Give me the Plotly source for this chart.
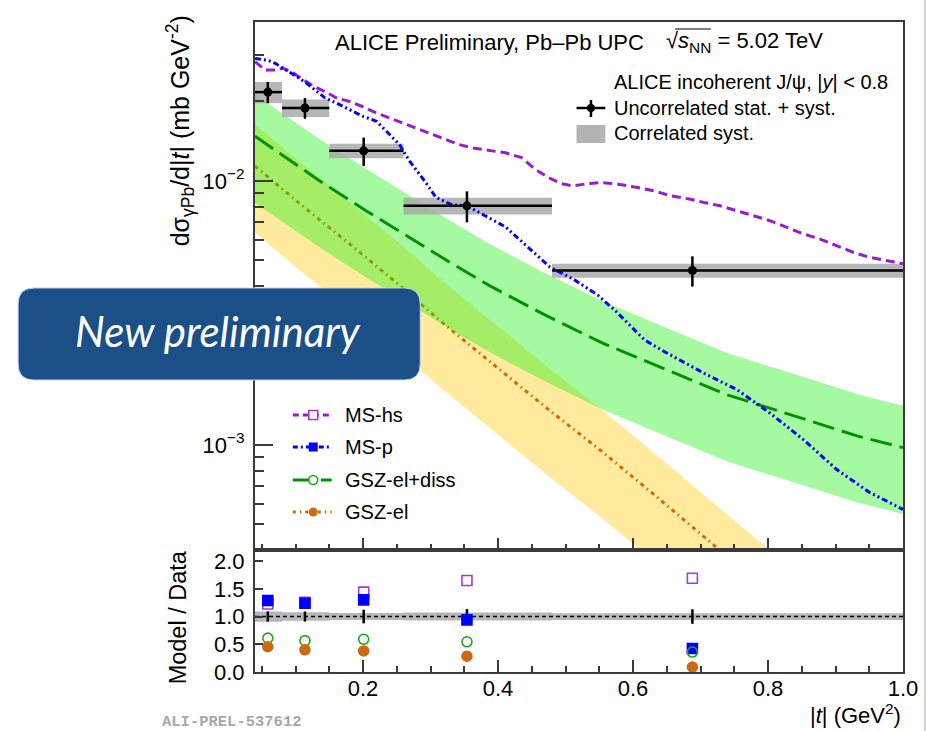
import math
import plotly.graph_objects as go

# ---------------- measured incoherent J/psi cross section ----------------
T_LO = [0.04, 0.08, 0.15, 0.26, 0.48]
T_HI = [0.08, 0.15, 0.26, 0.48, 1.00]
T_MEAN = [0.059, 0.114, 0.201, 0.354, 0.688]
XSEC = [0.0217, 0.0189, 0.0130, 0.00805, 0.00458]
XSEC_UNCORR = [0.0020, 0.0017, 0.0016, 0.00108, 0.00060]
XSEC_CORR = [0.0020, 0.00145, 0.00082, 0.00058, 0.00028]

# ---------------- model curves ----------------
MS_HS_T = [0.04, 0.055, 0.07, 0.082, 0.097, 0.112, 0.127, 0.144, 0.161, 0.18,
           0.2, 0.22, 0.27, 0.313, 0.342, 0.362, 0.411, 0.435, 0.455, 0.475,
           0.494, 0.511, 0.533, 0.553, 0.578, 0.607, 0.632, 0.656, 0.685, 0.705,
           0.729, 0.754, 0.779, 0.803, 0.828, 0.852, 0.876, 0.901, 0.926, 0.95,
           0.975, 1.0]
MS_HS_XSEC = [0.0283, 0.0263, 0.0263, 0.0267, 0.0256, 0.0242, 0.0228, 0.0218, 0.0206, 0.0200,
              0.0191, 0.0181, 0.0162, 0.01475, 0.01374, 0.01334, 0.01278, 0.01225, 0.01107, 0.01029,
              0.00977, 0.00958, 0.00977, 0.00986, 0.00972, 0.00944, 0.00917, 0.00878, 0.00853, 0.00829,
              0.00805, 0.00771, 0.00738, 0.00707, 0.00667, 0.0063, 0.00604, 0.00569, 0.00537, 0.00514,
              0.0050, 0.00486]

MS_P_T = [0.04, 0.058, 0.07, 0.087, 0.102, 0.117, 0.132, 0.144, 0.161, 0.18,
          0.2, 0.22, 0.244, 0.254, 0.269, 0.293, 0.308, 0.332, 0.354, 0.411,
          0.477, 0.514, 0.548, 0.573, 0.617, 0.646, 0.705, 0.754, 0.803, 0.852,
          0.901, 0.95, 1.0]
MS_P_XSEC = [0.0291, 0.0287, 0.0279, 0.0263, 0.0248, 0.0234, 0.0218, 0.0206, 0.0197, 0.0186,
             0.01757, 0.01683, 0.0145, 0.01374, 0.01189, 0.00986, 0.00866, 0.00812, 0.00805, 0.0067,
             0.00472, 0.00421, 0.00369, 0.00324, 0.0025, 0.00226, 0.00187, 0.00162, 0.00132, 0.00105,
             0.00081, 0.000662, 0.00057]

GSZ_DISS_T = [0.04, 0.136, 0.205, 0.288, 0.332, 0.386, 0.465, 0.555, 0.649, 0.739,
              0.84, 0.933, 1.0]
GSZ_DISS_XSEC = [0.01477, 0.0100, 0.0077, 0.00569, 0.00486, 0.00403, 0.00315, 0.00243, 0.00193, 0.00155,
                 0.001286, 0.00108, 0.000977]

GSZ_EL_T = [0.04, 0.104, 0.18, 0.254, 0.313, 0.401, 0.475, 0.553, 0.627, 0.72, 0.80, 0.82]
GSZ_EL_XSEC = [0.01139, 0.00829, 0.00578, 0.00403, 0.00297, 0.00195, 0.00136, 0.000949, 0.000662,
               0.000417, 0.000282, 0.000255]

GSZ_REL_UNC = 0.44   # relative width of the GSZ model bands

# ---------------- model / data ratios ----------------
RATIO_MS_HS = [1.225, 1.255, 1.44, 1.65, 1.69]
RATIO_MS_P = [1.29, 1.24, 1.30, 0.94, 0.425]
RATIO_GSZ_DISS = [0.61, 0.565, 0.59, 0.545, 0.36]
RATIO_GSZ_EL = [0.455, 0.40, 0.38, 0.285, 0.09]

# ---------------- styling ----------------
FONT = "Liberation Sans, Arial, Helvetica, sans-serif"
C_HS = "#9a1cd2"
C_HS_MK = "#a838dc"
C_P = "#0000ff"
C_DISS = "#009200"
C_DISS_MK = "#1fa61f"
C_EL = "#d56a00"
C_EL_MK = "#cc6a12"
BAND_DISS = "rgba(30,240,20,0.40)"
BAND_EL = "rgba(255,200,0,0.38)"
BOX_GRAY = "rgba(165,165,165,0.80)"
AX = "#3a3a3a"

W, H = 930, 731
L, R, T, B = 255, 906, 22, 672
SPLIT = 550


def px(x):
    return (x - L) / (R - L)


def py(y):
    return (B - y) / (B - T)


fig = go.Figure()


def band(t, c, rel, color):
    up = [v * (1 + rel) for v in c]
    lo = [v * (1 - rel) for v in c]
    return go.Scatter(x=t + t[::-1], y=up + lo[::-1], fill="toself", fillcolor=color,
                      line=dict(width=0), mode="lines", hoverinfo="skip",
                      showlegend=False, xaxis="x", yaxis="y")


def boxes(lo, hi, ylo, yhi, color, xa, ya):
    xs, ys = [], []
    for a, b, c, d in zip(lo, hi, ylo, yhi):
        xs += [a, b, b, a, a, None]
        ys += [c, c, d, d, c, None]
    return go.Scatter(x=xs, y=ys, fill="toself", fillcolor=color, line=dict(width=0),
                      mode="lines", hoverinfo="skip", showlegend=False, xaxis=xa, yaxis=ya)


# GSZ-el band and curve
fig.add_trace(band(GSZ_EL_T, GSZ_EL_XSEC, GSZ_REL_UNC, BAND_EL))
fig.add_trace(go.Scatter(x=GSZ_EL_T, y=GSZ_EL_XSEC, mode="lines",
                         line=dict(color=C_EL, width=3, dash="4px,4px,1.5px,4px"),
                         showlegend=False, xaxis="x", yaxis="y"))
# GSZ-el+diss band and curve
fig.add_trace(band(GSZ_DISS_T, GSZ_DISS_XSEC, GSZ_REL_UNC, BAND_DISS))
fig.add_trace(go.Scatter(x=GSZ_DISS_T, y=GSZ_DISS_XSEC, mode="lines",
                         line=dict(color=C_DISS, width=3, dash="22px,8px"),
                         showlegend=False, xaxis="x", yaxis="y"))

# correlated systematic boxes
fig.add_trace(boxes(T_LO, T_HI,
                    [v - e for v, e in zip(XSEC, XSEC_CORR)],
                    [v + e for v, e in zip(XSEC, XSEC_CORR)], BOX_GRAY, "x", "y"))

# MS curves
fig.add_trace(go.Scatter(x=MS_HS_T, y=MS_HS_XSEC, mode="lines",
                         line=dict(color=C_HS, width=3, dash="9px,5px"),
                         showlegend=False, xaxis="x", yaxis="y"))
fig.add_trace(go.Scatter(x=MS_P_T, y=MS_P_XSEC, mode="lines",
                         line=dict(color=C_P, width=3, dash="6px,3px,2px,3px,2px,3px"),
                         showlegend=False, xaxis="x", yaxis="y"))

# data points with uncorrelated uncertainties
fig.add_trace(go.Scatter(
    x=T_MEAN, y=XSEC, mode="markers",
    marker=dict(color="black", size=9),
    error_y=dict(type="data", array=XSEC_UNCORR, color="black", thickness=2.5, width=0),
    error_x=dict(type="data", symmetric=False,
                 array=[h - m for h, m in zip(T_HI, T_MEAN)],
                 arrayminus=[m - l for m, l in zip(T_MEAN, T_LO)],
                 color="black", thickness=2.5, width=0),
    showlegend=False, xaxis="x", yaxis="y"))

# ---------------- ratio panel ----------------
rel_corr = [e / v for e, v in zip(XSEC_CORR, XSEC)]
rel_unc = [e / v for e, v in zip(XSEC_UNCORR, XSEC)]
fig.add_trace(boxes(T_LO, T_HI, [1 - r for r in rel_corr], [1 + r for r in rel_corr],
                    BOX_GRAY, "x2", "y2"))
fig.add_trace(go.Scatter(x=[0.04, 1.0], y=[1, 1], mode="lines",
                         line=dict(color="black", width=1.5, dash="4px,3px"),
                         showlegend=False, xaxis="x2", yaxis="y2"))
# uncorrelated uncertainty of the data, relative, as vertical bars around unity
err_x, err_y = [], []
for t, r in zip(T_MEAN, rel_unc):
    err_x += [t, t, None]
    err_y += [1 - r, 1 + r, None]
fig.add_trace(go.Scatter(x=err_x, y=err_y, mode="lines", line=dict(color="black", width=2.5),
                         showlegend=False, xaxis="x2", yaxis="y2"))
for vals, sym, col in [(RATIO_MS_HS, "square-open", C_HS_MK),
                       (RATIO_MS_P, "square", C_P),
                       (RATIO_GSZ_DISS, "circle-open", C_DISS_MK),
                       (RATIO_GSZ_EL, "circle", C_EL_MK)]:
    fig.add_trace(go.Scatter(x=T_MEAN, y=vals, mode="markers",
                             marker=dict(symbol=sym, color=col, size=10, line=dict(width=1.6, color=col)),
                             showlegend=False, xaxis="x2", yaxis="y2"))

# ---------------- axes ----------------
split = py(SPLIT)
x_major = [0.2, 0.4, 0.6, 0.8, 1.0]
x_minor = [round(0.05 * k, 2) for k in range(1, 20) if k % 4 != 0]
y_minor = [m * 10 ** e for e in (-4, -3, -2) for m in range(2, 10)
           if 4e-4 < m * 10 ** e < 4e-2]

common_x = dict(range=[0.04, 1.0], showgrid=False, zeroline=False, showline=True, mirror=True,
                linecolor=AX, linewidth=2, ticks="inside", ticklen=12, tickwidth=1.5,
                tickcolor=AX, tickvals=x_major,
                minor=dict(tickvals=x_minor, ticks="inside", ticklen=6, tickwidth=1.5, tickcolor=AX))

fig.update_layout(
    width=W, height=H,
    margin=dict(l=L, r=W - R, t=T, b=H - B),
    paper_bgcolor="white", plot_bgcolor="white",
    font=dict(family=FONT, color="black", size=20),
    xaxis=dict(domain=[0, 1], anchor="y", showticklabels=False, **common_x),
    yaxis=dict(domain=[split, 1], anchor="x", type="log",
               range=[math.log10(4e-4), math.log10(4e-2)],
               showgrid=False, zeroline=False, showline=True, mirror=True,
               linecolor=AX, linewidth=2, ticks="inside", ticklen=18, tickwidth=1.5, tickcolor=AX,
               tickvals=[1e-3, 1e-2], ticktext=["10<sup>\u22123</sup>", "10<sup>\u22122</sup>"],
               tickfont=dict(size=22), ticklabelstandoff=4,
               minor=dict(tickvals=y_minor, ticks="inside", ticklen=9, tickwidth=1.5, tickcolor=AX)),
    xaxis2=dict(domain=[0, 1], anchor="y2", ticktext=["0.2", "0.4", "0.6", "0.8", "1.0"],
                tickfont=dict(size=22), ticklabelstandoff=-4, **common_x),
    yaxis2=dict(domain=[0, split], anchor="x2", range=[0, 2.2],
                showgrid=False, zeroline=False, showline=True, mirror=True,
                linecolor=AX, linewidth=2, ticks="inside", ticklen=8, tickwidth=1.5, tickcolor=AX,
                tickvals=[0, 0.5, 1.0, 1.5, 2.0], ticktext=["0.0", "0.5", "1.0", "1.5", "2.0"],
                tickfont=dict(size=22), ticklabelstandoff=4),
)

# ---------------- texts ----------------
ann = []


def text(x, y, s, size=20, anchor="left", color="black", **kw):
    ann.append(dict(x=px(x), y=py(y), xref="paper", yref="paper", text=s, showarrow=False,
                    xanchor=anchor, yanchor="middle", font=dict(size=size, color=color,
                                                                 family=kw.pop("family", FONT)),
                    **kw))


text(333, 42, "ALICE Preliminary, Pb\u2013Pb UPC", size=22)
text(666, 42, "\u221a<i>s</i><sub>NN</sub> = 5.02 TeV", size=22)
text(614, 82, "ALICE incoherent J/\u03c8, |<i>y</i>| &lt; 0.8", size=20)
text(614, 108, "Uncorrelated stat. + syst.", size=20)
text(614, 133, "Correlated syst.", size=20)

model_rows = [("MS-hs", 415), ("MS-p", 447), ("GSZ-el+diss", 480), ("GSZ-el", 512)]
for name, y in model_rows:
    text(343, y, name, size=20)

text(180, 131, "d\u03c3<sub>\u03b3Pb</sub>/d|<i>t</i>| (mb GeV<sup>-2</sup>)", size=25,
     anchor="center", textangle=-90)
text(178, 617, "Model / Data", size=23.5, anchor="center", textangle=-90)
text(906, 714, "|<i>t</i>| (GeV<sup>2</sup>)", size=22, anchor="right")
text(160, 722, "<b>ALI-PREL-537612</b>", size=15.5, color="#a8a8a8",
     family="Liberation Mono, Courier New, monospace")

# ---------------- legend symbols and decorations ----------------
shapes = []


def seg(x0, y0, x1, y1, color, width, dash="solid", layer="above"):
    shapes.append(dict(type="line", xref="paper", yref="paper", x0=px(x0), y0=py(y0),
                       x1=px(x1), y1=py(y1), line=dict(color=color, width=width, dash=dash),
                       layer=layer))


def rect(x0, y0, x1, y1, fill, line_color=None, lw=0, kind="rect"):
    shapes.append(dict(type=kind, xref="paper", yref="paper", x0=px(x0), y0=py(y1),
                       x1=px(x1), y1=py(y0), fillcolor=fill,
                       line=dict(color=line_color or fill, width=lw), layer="above"))


# overbar of the square root
seg(677, 29, 713, 29, "black", 1.2)

# data legend symbols
seg(578, 108, 607, 108, "black", 2.5)
seg(592.5, 100, 592.5, 117, "black", 2.5)
rect(588.5, 104, 596.5, 112, "black", kind="circle")
rect(578, 125, 607, 143, "#b4b4b4")

# model legend symbols
lx0, lx1, mx = 293, 332, 313.5
seg(lx0, 415, lx1, 415, C_HS, 3, "6px,4px")
rect(mx - 4.5, 410.5, mx + 4.5, 419.5, "white", C_HS_MK, 1.6)
seg(lx0, 447, lx1, 447, C_P, 3, "5px,3px,2px,3px")
rect(mx - 4.5, 442.5, mx + 4.5, 451.5, C_P)
seg(lx0, 480, lx1, 480, C_DISS, 3, "22px,6px")
rect(mx - 4.5, 475.5, mx + 4.5, 484.5, "white", C_DISS_MK, 1.6, kind="circle")
seg(lx0, 512, lx1, 512, C_EL, 3, "3px,4px,1.5px,4px")
rect(mx - 4.5, 507.5, mx + 4.5, 516.5, C_EL_MK, kind="circle")

# "New preliminary" badge with rounded corners
bx0, by0, bx1, by1, rr = 17, 288, 421, 380, 16
pts = [("M", bx0 + rr, by0), ("L", bx1 - rr, by0), ("Q", bx1, by0, bx1, by0 + rr),
       ("L", bx1, by1 - rr), ("Q", bx1, by1, bx1 - rr, by1), ("L", bx0 + rr, by1),
       ("Q", bx0, by1, bx0, by1 - rr), ("L", bx0, by0 + rr), ("Q", bx0, by0, bx0 + rr, by0)]
path = ""
for p in pts:
    cmd, coords = p[0], p[1:]
    path += cmd + " " + " ".join(
        f"{px(coords[i]):.5f},{py(coords[i + 1]):.5f}" for i in range(0, len(coords), 2)) + " "
shapes.append(dict(type="path", xref="paper", yref="paper", path=path + "Z",
                   fillcolor="#1a5087", line=dict(color="#c8d4e0", width=1), layer="above"))
text(218, 331, "<i>New preliminary</i>", size=42, anchor="center", color="white",
     family="Lato, Open Sans, sans-serif")

# page edge
seg(928, 0, 928, 731, "#d0d0d0", 2)

fig.update_layout(annotations=ann, shapes=shapes)
fig.write_html("out.html")
